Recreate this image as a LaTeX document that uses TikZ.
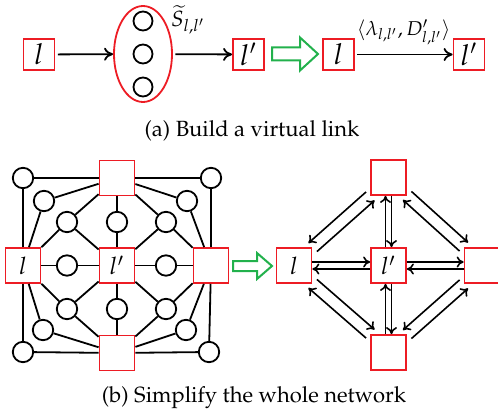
\documentclass[tikz,border=0pt]{standalone}
\usepackage[T1]{fontenc}
\usepackage{mathpazo}
\usetikzlibrary{shapes.geometric,arrows.meta,calc}
\definecolor{boxred}{RGB}{237,28,36}
\definecolor{hollowgreen}{RGB}{34,177,76}

\begin{document}
\begin{tikzpicture}[x=0.5pt,y=-0.5pt,
  rbox/.style={draw=boxred, line width=0.9pt, minimum size=17.5pt, inner sep=0pt},
  sbox/.style={rbox, minimum size=15.5pt},
  nd/.style={circle, draw, line width=0.9pt, minimum size=10.2pt, inner sep=0pt},
  snd/.style={nd, minimum size=9.5pt},
  grpell/.style={ellipse, draw=boxred, line width=0.9pt, minimum width=29pt, minimum height=48pt, inner sep=0pt},
  ed/.style={line width=0.9pt},
  toparr/.style={line width=0.9pt, -{To[length=4.5pt,width=6.5pt]}, shorten <=1.2pt},
  sa/.style={line width=0.8pt, -{To[length=3.5pt,width=5.5pt]}},
  hollow/.style={draw=hollowgreen, line width=1pt, fill=white, line join=miter},
  captext/.style={anchor=base, font=\fontsize{11}{13}\selectfont}
  ]
\clip (0,0) rectangle (498,417);

% ---- (a) building a virtual link ----
\node[sbox] (a1) at (39,54.5) {\Large$l$};
\node[grpell] (grp) at (143,54) {};
\node[snd] (g1) at (143,21) {};
\node[snd] (g2) at (143,54) {};
\node[snd] (g3) at (143,87) {};
\node[sbox] (a2) at (248.5,54.5) {\Large$l'$};
\node[sbox] (a3) at (338.5,54.5) {\Large$l$};
\node[sbox] (a4) at (469,54.5) {\Large$l'$};
\node[font=\fontsize{11}{13}\selectfont, inner sep=1pt] (slab) at (188,20) {$\widetilde{S}_{l,l'}$};

\draw[toparr] (a1) -- (grp);
\draw[toparr] (grp) -- (a2);
\draw[toparr] (a3) -- node[midway, above=1pt] {$\langle \lambda_{l,l'}, D'_{l,l'}\rangle$} (a4);

\draw[hollow] (272,47.5) -- (300,47.5) -- (300,37.5) -- (318,54) -- (300,70.5)
  -- (300,60.5) -- (272,60.5) -- cycle;

\node[captext] (capa) at (252,137) {(a) Build a virtual link};

% ---- (b) the whole network ----
\node[rbox] (T) at (117,178) {};
\node[rbox] (L) at (23,265.5) {\large$l$};
\node[rbox] (C) at (117,265.5) {\large$l'$};
\node[rbox] (R) at (211,265.5) {};
\node[rbox] (B) at (117,353) {};

\node[nd] (k1) at (23,178) {};
\node[nd] (k2) at (211,178) {};
\node[nd] (k3) at (23,352) {};
\node[nd] (k4) at (209,352) {};
\node[nd] (r1) at (44,201) {};
\node[nd] (r2) at (187,201) {};
\node[nd] (r3) at (43,330) {};
\node[nd] (r4) at (186,330) {};
\node[nd] (i1) at (67,222) {};
\node[nd] (i2) at (117,222) {};
\node[nd] (i3) at (166,222) {};
\node[nd] (i4) at (67,265.5) {};
\node[nd] (i5) at (166,265.5) {};
\node[nd] (i6) at (67,309) {};
\node[nd] (i7) at (117,309) {};
\node[nd] (i8) at (166,309) {};

\foreach \u/\v in {k1/T, k1/L, k2/T, k2/R, k3/L, k3/B, k4/R, k4/B,
                   r1/T, r1/L, r2/T, r2/R, r3/L, r3/B, r4/R, r4/B,
                   i1/T, i1/L, i1/C, i2/T, i2/C, i3/T, i3/R, i3/C,
                   i4/L, i4/C, i5/C, i5/R,
                   i6/L, i6/C, i6/B, i7/C, i7/B, i8/C, i8/R, i8/B}
  \draw[ed] (\u) -- (\v);

\draw[hollow] (233,261) -- (257,261) -- (257,253) -- (272,266) -- (257,279)
  -- (257,271) -- (233,271) -- cycle;

% ---- simplified network ----
\node[rbox] (T2) at (388.5,177.5) {};
\node[rbox] (L2) at (294,265.5) {\large$l$};
\node[rbox] (C2) at (388.5,265.5) {\large$l'$};
\node[rbox] (R2) at (482,265.5) {};
\node[rbox] (B2) at (388.5,352.5) {};

\draw[sa] ($(L2.east)+(0,-3.5)$) -- ($(C2.west)+(0,-3.5)$);
\draw[sa] ($(C2.west)+(0,3.5)$) -- ($(L2.east)+(0,3.5)$);
\draw[sa] ($(C2.east)+(0,-3.5)$) -- ($(R2.west)+(0,-3.5)$);
\draw[sa] ($(R2.west)+(0,3.5)$) -- ($(C2.east)+(0,3.5)$);
\draw[sa] ($(C2.north)+(-3,0)$) -- ($(T2.south)+(-3,0)$);
\draw[sa] ($(T2.south)+(3,0)$) -- ($(C2.north)+(3,0)$);
\draw[sa] ($(B2.north)+(-3,0)$) -- ($(C2.south)+(-3,0)$);
\draw[sa] ($(C2.south)+(3,0)$) -- ($(B2.north)+(3,0)$);

\draw[sa] ($(L2.north east)+(4.5,4.5)$) -- ($(T2.south west)+(4.5,4.5)$);
\draw[sa] ($(T2.south west)+(-4,-4)$) -- ($(L2.north east)+(-4,-4)$);
\draw[sa] ($(T2.south east)+(4.5,-4.5)$) -- ($(R2.north west)+(4.5,-4.5)$);
\draw[sa] ($(R2.north west)+(-4,4)$) -- ($(T2.south east)+(-4,4)$);
\draw[sa] ($(L2.south east)+(4.5,-4.5)$) -- ($(B2.north west)+(4.5,-4.5)$);
\draw[sa] ($(B2.north west)+(-4,4)$) -- ($(L2.south east)+(-4,4)$);
\draw[sa] ($(B2.north east)+(4.5,4.5)$) -- ($(R2.south west)+(4.5,4.5)$);
\draw[sa] ($(R2.south west)+(-4,-4)$) -- ($(B2.north east)+(-4,-4)$);

\node[captext] (capb) at (254,402) {(b) Simplify the whole network};
\end{tikzpicture}
\end{document}
